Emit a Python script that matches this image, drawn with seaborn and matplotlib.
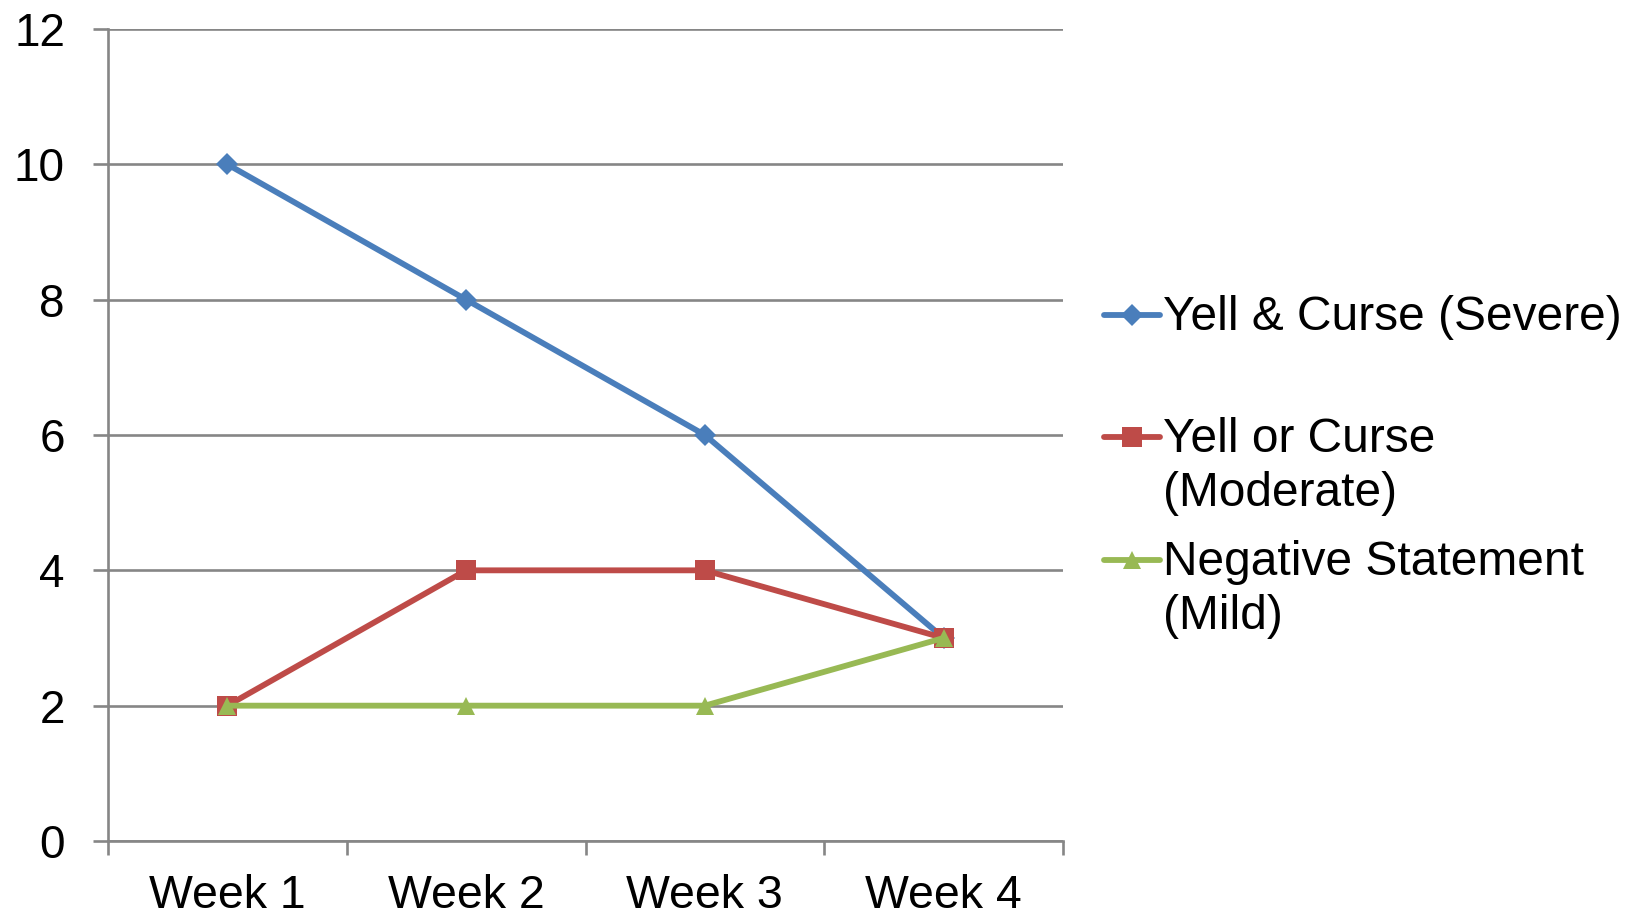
import matplotlib
matplotlib.use("Agg")
import matplotlib.pyplot as plt
from matplotlib.lines import Line2D
import pandas as pd
import seaborn as sns

# Data
weeks = ["Week 1", "Week 2", "Week 3", "Week 4"]
severe = [10, 8, 6, 3]
moderate = [2, 4, 4, 3]
mild = [2, 2, 2, 3]
series_names = ["Yell & Curse (Severe)", "Yell or Curse\n(Moderate)", "Negative Statement\n(Mild)"]
y_ticks = [0, 2, 4, 6, 8, 10, 12]

sns.set_theme(style="white")
plt.rcParams["font.family"] = ["Liberation Sans", "DejaVu Sans"]

W, H = 1636, 919
fig = plt.figure(figsize=(W / 100, H / 100), dpi=100)
ax = fig.add_axes([108 / W, 1 - 841 / H, (1063 - 108) / W, (841 - 29) / H])

grid_color = "#868686"
grid_lw = 1.9
colors = ["#4A7EBB", "#BE4B48", "#98B954"]
markers = ["D", "s", "^"]
msizes = [11, 15, 13.5]
lw = 4.2

xpos = list(range(len(weeks)))
for vals, name, c, m, ms in zip([severe, moderate, mild], series_names, colors, markers, msizes):
    df = pd.DataFrame({"x": xpos, "y": vals})
    sns.lineplot(data=df, x="x", y="y", ax=ax, color=c, linewidth=lw,
                 marker=m, markersize=ms, markeredgewidth=0, zorder=3,
                 legend=False, clip_on=False)

ax.set_xlim(-0.5, len(weeks) - 0.5)
ax.set_ylim(0, 12)
ax.set_xlabel("")
ax.set_ylabel("")

# y axis: gridlines + outward ticks
ax.set_yticks(y_ticks)
ax.set_yticklabels([str(t) for t in y_ticks])
ax.yaxis.grid(True, color=grid_color, linewidth=grid_lw, zorder=0)
ax.set_axisbelow(True)
ax.tick_params(axis="y", which="major", left=True, length=11, width=grid_lw,
               color=grid_color, direction="out", labelsize=33, pad=20,
               labelcolor="black")

# x axis: tick marks between categories, labels at category centers
ax.set_xticks([i - 0.5 for i in range(len(weeks) + 1)])
ax.set_xticklabels([""] * (len(weeks) + 1))
ax.set_xticks(xpos, minor=True)
ax.set_xticklabels(weeks, minor=True)
ax.tick_params(axis="x", which="major", bottom=True, length=10, width=grid_lw,
               color=grid_color, direction="out")
ax.tick_params(axis="x", which="minor", bottom=False, length=0,
               labelsize=33.5, pad=24, labelcolor="black")

for s in ["top", "right"]:
    ax.spines[s].set_visible(False)
for s in ["left", "bottom"]:
    ax.spines[s].set_color(grid_color)
    ax.spines[s].set_linewidth(grid_lw)

# Legend drawn at the right
hx0, hx1, tx = 1104, 1160, 1163
entry_y = [315, 437, 560]
for name, c, m, ms, yy in zip(series_names, colors, markers, msizes, entry_y):
    yf = 1 - yy / H
    fig.add_artist(Line2D([hx0 / W, (hx0 + hx1) / 2 / W, hx1 / W], [yf, yf, yf],
                          transform=fig.transFigure, color=c, linewidth=lw,
                          marker=m, markersize=ms, markeredgewidth=0,
                          markevery=[1]))
    fig.text(tx / W, 1 - (yy - 20) / H, name, fontsize=34.5, color="black",
             ha="left", va="top", linespacing=1.25,
             transform=fig.transFigure)

fig.savefig("out.png", dpi=100, facecolor="white")
